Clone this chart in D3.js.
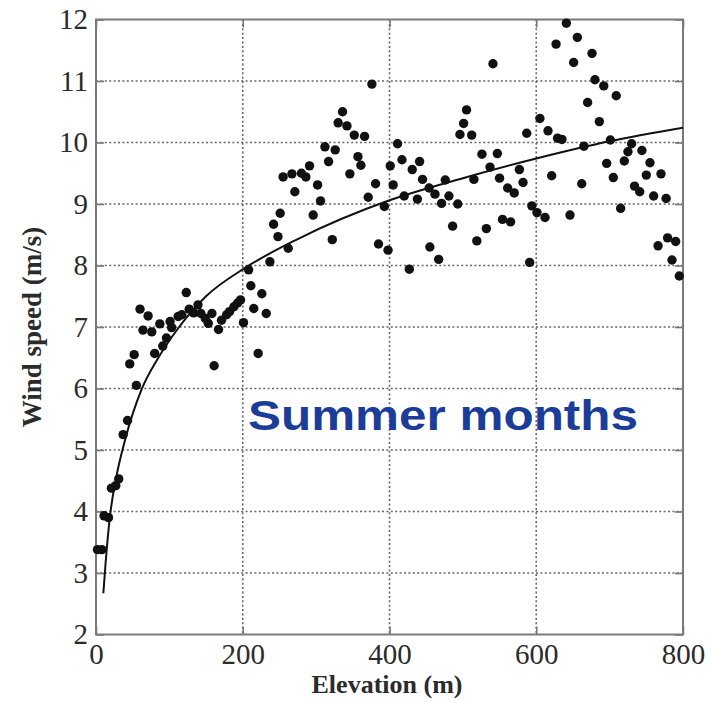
<!DOCTYPE html>
<html>
<head>
<meta charset="utf-8">
<script src="https://cdn.jsdelivr.net/npm/d3@7"></script>
<style>
  html, body { margin: 0; padding: 0; background: #fff; }
  svg { display: block; }
</style>
</head>
<body>
<svg id="chart" width="712" height="702"></svg>
<script>
// Measured wind speed versus station elevation (summer months)
const elevation = [
  2, 8, 11, 17, 21, 27, 31, 37, 43, 46, 52, 55,
  60, 71, 64, 76, 80, 87, 91, 96, 101, 103, 112, 117, 123, 127, 133, 139, 143, 149,
  153, 158, 161, 167, 171, 178, 182, 188, 193, 197, 201, 208, 211, 215, 221, 226, 232,
  237, 242, 248, 251, 255, 262, 267, 271, 280, 286, 291, 296, 302, 306, 312, 317, 322,
  326, 330, 336, 342, 346, 352, 357, 361, 366, 371, 376, 381, 385, 393, 398, 401, 405,
  411, 417, 420, 427, 431, 438, 441, 445, 454, 455, 462, 467, 471, 476, 481, 486, 493,
  496, 501, 505, 512, 515, 519, 526, 532, 537, 541, 547, 550, 554, 561, 565, 570, 577,
  582, 587, 591, 594, 601, 605, 612, 616, 621, 627, 629, 635, 641, 646, 651, 656, 662,
  665, 670, 676, 680, 686, 692, 696, 701, 705, 709, 715, 720, 725, 730, 734, 741, 744,
  750, 755, 760, 766, 770, 777, 779, 785, 790, 795
];
const windSpeed = [
  3.38, 3.38, 3.93, 3.90, 4.38, 4.42, 4.53, 5.25, 5.48, 6.40, 6.55, 6.05,
  7.29, 7.18, 6.95, 6.92, 6.57, 7.05, 6.69, 6.82, 7.09, 6.99, 7.17, 7.20, 7.56, 7.29, 7.23, 7.36, 7.22, 7.14,
  7.06, 7.22, 6.37, 6.96, 7.11, 7.20, 7.25, 7.33, 7.39, 7.44, 7.07, 7.93, 7.67, 7.30, 6.57, 7.54, 7.22,
  8.06, 8.67, 8.47, 8.85, 9.44, 8.28, 9.49, 9.20, 9.50, 9.44, 9.62, 8.82, 9.31, 9.05, 9.93, 9.69, 8.42,
  9.88, 10.32, 10.50, 10.27, 9.49, 10.12, 9.77, 9.63, 10.10, 9.11, 10.95, 9.33, 8.35, 8.96, 8.25, 9.62, 9.31,
  9.98, 9.72, 9.13, 7.94, 9.56, 9.08, 9.69, 9.40, 9.26, 8.30, 9.16, 8.10, 9.01, 9.39, 9.13, 8.64, 9.00,
  10.13, 10.31, 10.53, 10.12, 9.40, 8.40, 9.81, 8.60, 9.60, 11.28, 9.82, 9.42, 8.75, 9.26, 8.71, 9.18, 9.56,
  9.35, 10.15, 8.05, 8.97, 8.86, 10.39, 8.78, 10.19, 9.46, 11.60, 10.07, 10.05, 11.94, 8.82, 11.30, 11.71, 9.33,
  9.94, 10.65, 11.45, 11.02, 10.34, 10.92, 9.66, 10.04, 9.43, 10.76, 8.93, 9.70, 9.85, 9.98, 9.29, 9.20, 9.87,
  9.47, 9.67, 9.13, 8.32, 9.49, 9.09, 8.45, 8.09, 8.39, 7.83
];

// Fitted trend line
const fitElevation = [10, 13, 19, 28, 40, 62, 85, 112, 150, 203, 275, 400, 500, 600, 700, 800];
const fitSpeed     = [2.67, 3.15, 3.92, 4.58, 5.18, 5.98, 6.5, 6.98, 7.5, 7.96, 8.43, 9.06, 9.42, 9.74, 10.02, 10.24];

// Axis ticks and labels
const xTicks = [0, 200, 400, 600, 800];
const yTicks = [2, 3, 4, 5, 6, 7, 8, 9, 10, 11, 12];
const xTitle = "Elevation (m)";
const yTitle = "Wind speed (m/s)";
const noteText = "Summer months";

const serif = "'Liberation Serif', 'Times New Roman', Times, serif";
const svg = d3.select("#chart");
const plotLeft = 96, plotRight = 683, plotTop = 19.5, plotBottom = 634.5;

const x = d3.scaleLinear().domain([0, 800]).range([plotLeft, plotRight]);
const y = d3.scaleLinear().domain([2, 12]).range([plotBottom, plotTop]);

svg.append("rect").attr("width", 712).attr("height", 702).attr("fill", "#fff");

// Dotted grid
const grid = svg.append("g")
  .attr("stroke", "#666")
  .attr("stroke-width", 1.6)
  .attr("stroke-dasharray", "2,2.4");
grid.selectAll("line.gx")
  .data(xTicks.filter(d => d > 0 && d < 800))
  .join("line")
  .attr("class", "gx")
  .attr("x1", d => x(d)).attr("x2", d => x(d))
  .attr("y1", plotTop).attr("y2", plotBottom);
grid.selectAll("line.gy")
  .data(yTicks.filter(d => d > 2 && d < 12))
  .join("line")
  .attr("class", "gy")
  .attr("x1", plotLeft).attr("x2", plotRight)
  .attr("y1", d => y(d)).attr("y2", d => y(d));

// Axes with inward ticks on all four sides
const tickStyle = g => {
  g.attr("font-family", null).attr("font-size", null);
  g.select(".domain").remove();
  g.selectAll(".tick line").attr("stroke", "#777").attr("stroke-width", 1.6);
  g.selectAll(".tick text")
    .style("font-family", serif)
    .style("font-size", "29px")
    .attr("fill", "#2b2b2b");
};

svg.append("g")
  .attr("transform", `translate(${plotLeft},0)`)
  .call(d3.axisLeft(y).tickValues(yTicks).tickFormat(d3.format("d")).tickSizeInner(-8).tickSizeOuter(0).tickPadding(8))
  .call(tickStyle);

svg.append("g")
  .attr("transform", `translate(0,${plotBottom})`)
  .call(d3.axisBottom(x).tickValues(xTicks).tickFormat(d3.format("d")).tickSizeInner(-8).tickSizeOuter(0).tickPadding(9))
  .call(tickStyle);

svg.append("g")
  .attr("transform", `translate(${plotRight},0)`)
  .call(d3.axisRight(y).tickValues(yTicks).tickFormat("").tickSizeInner(-8).tickSizeOuter(0))
  .call(tickStyle);

svg.append("g")
  .attr("transform", `translate(0,${plotTop})`)
  .call(d3.axisTop(x).tickValues(xTicks).tickFormat("").tickSizeInner(-8).tickSizeOuter(0))
  .call(tickStyle);

// Plot frame
svg.append("rect")
  .attr("x", plotLeft).attr("y", plotTop)
  .attr("width", plotRight - plotLeft).attr("height", plotBottom - plotTop)
  .attr("fill", "none").attr("stroke", "#7a7a7a").attr("stroke-width", 2);

// Observations
const pts = elevation.map((e, i) => ({ e, v: windSpeed[i] }));
svg.append("g").selectAll("circle")
  .data(pts)
  .join("circle")
  .attr("cx", d => x(d.e))
  .attr("cy", d => y(d.v))
  .attr("r", 4.7)
  .attr("fill", "#111");

// Trend line
const fit = fitElevation.map((e, i) => [e, fitSpeed[i]]);
svg.append("path")
  .datum(fit)
  .attr("fill", "none")
  .attr("stroke", "#111")
  .attr("stroke-width", 2)
  .attr("d", d3.line().x(d => x(d[0])).y(d => y(d[1])).curve(d3.curveMonotoneX));

// Axis titles
svg.append("text")
  .attr("x", 387).attr("y", 693)
  .attr("text-anchor", "middle")
  .style("font-family", serif)
  .attr("font-weight", "bold")
  .attr("font-size", 26)
  .attr("fill", "#2b2b2b")
  .text(xTitle);

svg.append("text")
  .attr("transform", "translate(41,327) rotate(-90)")
  .attr("text-anchor", "middle")
  .style("font-family", serif)
  .attr("font-weight", "bold")
  .attr("font-size", 27)
  .attr("fill", "#2b2b2b")
  .text(yTitle);

// Season annotation
svg.append("text")
  .attr("x", 248).attr("y", 430)
  .attr("font-family", "'Liberation Sans', Arial, sans-serif")
  .attr("font-weight", "bold")
  .attr("font-size", 42)
  .attr("textLength", 390)
  .attr("lengthAdjust", "spacingAndGlyphs")
  .attr("fill", "#1b3d98")
  .text(noteText);
</script>
</body>
</html>
